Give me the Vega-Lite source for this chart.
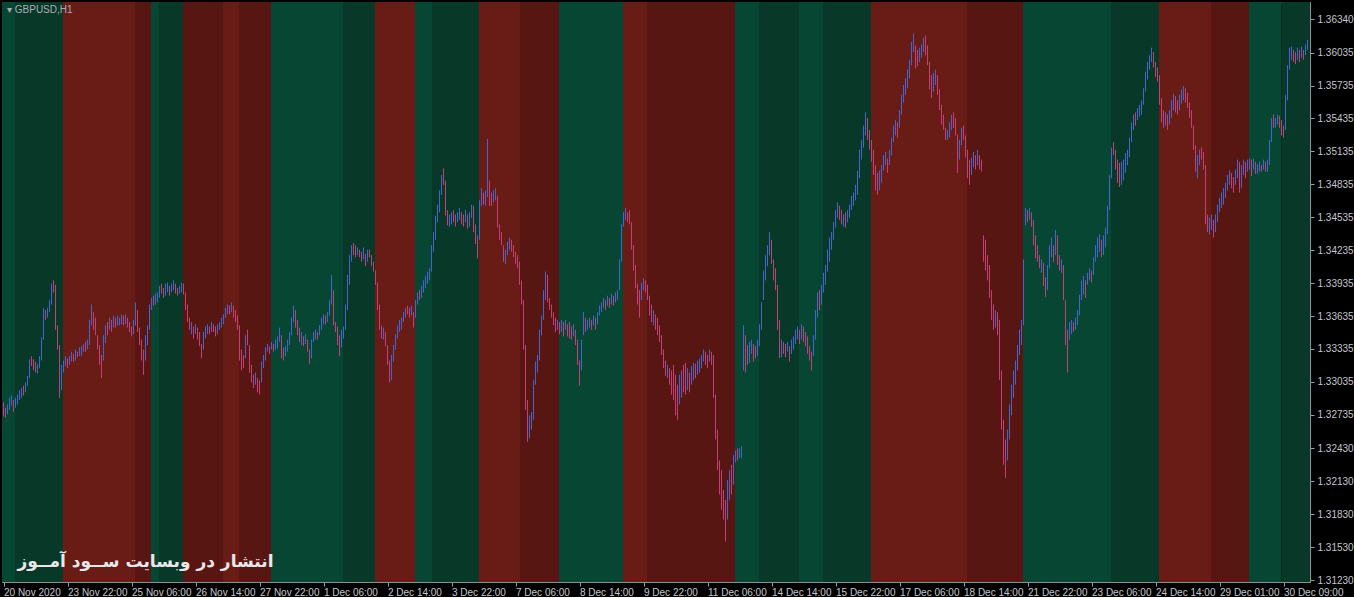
{
"$schema":"https://vega.github.io/schema/vega-lite/v6.json",
"width":1308,"height":580,
"padding":{"left":2,"top":2,"right":0,"bottom":0},
"autosize":{"type":"pad"},
"background":"#000000",
"config":{"font":"Liberation Sans","view":{"stroke":"#8a8f9c","strokeWidth":1},
 "axisX":{"title":null,"labelAlign":"left","labelDx":-3,"labelPadding":1,"labelFontSize":10,"labelColor":"#c4c6cc","labelFont":"Liberation Sans","labelOverlap":false,"labelFlush":false,
    "tickSize":4,"tickColor":"#9a9ea8","domainColor":"#8a8f9c","grid":false},
 "axisY":{"title":null,"labelPadding":3,"labelFontSize":10,"labelColor":"#c4c6cc","labelFont":"Liberation Sans","labelOverlap":false,"labelFlush":false,
    "tickSize":4,"tickColor":"#9a9ea8","domainColor":"#8a8f9c","grid":false}},
"title":{"text":"▾ GBPUSD,H1","anchor":"start","orient":"top","offset":-13,"dx":5,"fontSize":10,"fontWeight":"normal","color":"#a9adb6","font":"Liberation Sans","frame":"group"},
"datasets":{
"bands":[{"s":-0.75,"e":5.75,"c":"lg"},{"s":5.75,"e":29.75,"c":"dg"},{"s":29.75,"e":65.75,"c":"lr"},{"s":65.75,"e":73.75,"c":"dr"},{"s":73.75,"e":77.75,"c":"lg"},{"s":77.75,"e":89.75,"c":"dg"},{"s":89.75,"e":109.75,"c":"dr"},{"s":109.75,"e":117.75,"c":"lr"},{"s":117.75,"e":133.75,"c":"dr"},{"s":133.75,"e":169.75,"c":"lg"},{"s":169.75,"e":185.75,"c":"dg"},{"s":185.75,"e":205.75,"c":"lr"},{"s":205.75,"e":214.25,"c":"lg"},{"s":214.25,"e":237.75,"c":"dg"},{"s":237.75,"e":258.25,"c":"lr"},{"s":258.25,"e":277.75,"c":"dr"},{"s":277.75,"e":309.75,"c":"lg"},{"s":309.75,"e":321.75,"c":"lr"},{"s":321.75,"e":365.75,"c":"dr"},{"s":365.75,"e":377.75,"c":"lg"},{"s":377.75,"e":397.75,"c":"dg"},{"s":397.75,"e":409.75,"c":"lg"},{"s":409.75,"e":433.75,"c":"dg"},{"s":433.75,"e":481.75,"c":"lr"},{"s":481.75,"e":509.75,"c":"dr"},{"s":509.75,"e":553.75,"c":"lg"},{"s":553.75,"e":577.75,"c":"dg"},{"s":577.75,"e":603.75,"c":"lr"},{"s":603.75,"e":622.75,"c":"dr"},{"s":622.75,"e":639,"c":"lg"},{"s":639,"e":653.25,"c":"dg"}],
"bars":[
{"i":0,"h":1.3285,"l":1.3272,"d":"d"},{"i":1,"h":1.3280,"l":1.3271,"d":"d"},{"i":2,"h":1.3283,"l":1.3274,"d":"u"},{"i":3,"h":1.3289,"l":1.3278,"d":"u"},{"i":4,"h":1.3291,"l":1.3282,"d":"u"},{"i":5,"h":1.3287,"l":1.3276,"d":"d"},{"i":6,"h":1.3289,"l":1.3280,"d":"u"},{"i":7,"h":1.3292,"l":1.3283,"d":"u"},{"i":8,"h":1.3296,"l":1.3287,"d":"u"},{"i":9,"h":1.3298,"l":1.3289,"d":"u"},
{"i":10,"h":1.3300,"l":1.3291,"d":"d"},{"i":11,"h":1.3303,"l":1.3294,"d":"u"},{"i":12,"h":1.3309,"l":1.3300,"d":"u"},{"i":13,"h":1.3324,"l":1.3307,"d":"u"},{"i":14,"h":1.3327,"l":1.3318,"d":"d"},{"i":15,"h":1.3324,"l":1.3314,"d":"d"},{"i":16,"h":1.3322,"l":1.3312,"d":"d"},{"i":17,"h":1.3320,"l":1.3311,"d":"u"},{"i":18,"h":1.3327,"l":1.3316,"d":"u"},{"i":19,"h":1.3344,"l":1.3323,"d":"u"},
{"i":20,"h":1.3371,"l":1.3342,"d":"u"},{"i":21,"h":1.3369,"l":1.3360,"d":"d"},{"i":22,"h":1.3371,"l":1.3362,"d":"u"},{"i":23,"h":1.3378,"l":1.3367,"d":"u"},{"i":24,"h":1.3393,"l":1.3374,"d":"u"},{"i":25,"h":1.3396,"l":1.3385,"d":"d"},{"i":26,"h":1.3392,"l":1.3351,"d":"d"},{"i":27,"h":1.3355,"l":1.3333,"d":"d"},{"i":28,"h":1.3337,"l":1.3289,"d":"d"},{"i":29,"h":1.3319,"l":1.3296,"d":"u"},
{"i":30,"h":1.3323,"l":1.3312,"d":"u"},{"i":31,"h":1.3327,"l":1.3318,"d":"u"},{"i":32,"h":1.3325,"l":1.3316,"d":"d"},{"i":33,"h":1.3327,"l":1.3319,"d":"u"},{"i":34,"h":1.3331,"l":1.3322,"d":"u"},{"i":35,"h":1.3329,"l":1.3322,"d":"d"},{"i":36,"h":1.3333,"l":1.3323,"d":"u"},{"i":37,"h":1.3331,"l":1.3326,"d":"d"},{"i":38,"h":1.3335,"l":1.3327,"d":"u"},{"i":39,"h":1.3336,"l":1.3327,"d":"u"},
{"i":40,"h":1.3338,"l":1.3331,"d":"u"},{"i":41,"h":1.3340,"l":1.3331,"d":"d"},{"i":42,"h":1.3342,"l":1.3333,"d":"u"},{"i":43,"h":1.3360,"l":1.3337,"d":"u"},{"i":44,"h":1.3374,"l":1.3355,"d":"u"},{"i":45,"h":1.3367,"l":1.3351,"d":"d"},{"i":46,"h":1.3362,"l":1.3346,"d":"d"},{"i":47,"h":1.3346,"l":1.3333,"d":"d"},{"i":48,"h":1.3337,"l":1.3319,"d":"d"},{"i":49,"h":1.3328,"l":1.3307,"d":"d"},
{"i":50,"h":1.3346,"l":1.3323,"d":"u"},{"i":51,"h":1.3355,"l":1.3339,"d":"u"},{"i":52,"h":1.3358,"l":1.3346,"d":"d"},{"i":53,"h":1.3362,"l":1.3351,"d":"u"},{"i":54,"h":1.3360,"l":1.3349,"d":"d"},{"i":55,"h":1.3364,"l":1.3353,"d":"u"},{"i":56,"h":1.3362,"l":1.3353,"d":"d"},{"i":57,"h":1.3364,"l":1.3355,"d":"u"},{"i":58,"h":1.3362,"l":1.3355,"d":"u"},{"i":59,"h":1.3365,"l":1.3356,"d":"u"},
{"i":60,"h":1.3364,"l":1.3355,"d":"d"},{"i":61,"h":1.3365,"l":1.3356,"d":"u"},{"i":62,"h":1.3362,"l":1.3353,"d":"d"},{"i":63,"h":1.3358,"l":1.3349,"d":"d"},{"i":64,"h":1.3354,"l":1.3345,"d":"d"},{"i":65,"h":1.3360,"l":1.3347,"d":"u"},{"i":66,"h":1.3376,"l":1.3355,"d":"u"},{"i":67,"h":1.3369,"l":1.3349,"d":"d"},{"i":68,"h":1.3353,"l":1.3337,"d":"d"},{"i":69,"h":1.3342,"l":1.3323,"d":"d"},
{"i":70,"h":1.3333,"l":1.3310,"d":"d"},{"i":71,"h":1.3346,"l":1.3323,"d":"u"},{"i":72,"h":1.3355,"l":1.3337,"d":"u"},{"i":73,"h":1.3374,"l":1.3351,"d":"u"},{"i":74,"h":1.3380,"l":1.3369,"d":"u"},{"i":75,"h":1.3382,"l":1.3373,"d":"d"},{"i":76,"h":1.3384,"l":1.3374,"d":"u"},{"i":77,"h":1.3385,"l":1.3376,"d":"u"},{"i":78,"h":1.3391,"l":1.3380,"d":"u"},{"i":79,"h":1.3393,"l":1.3384,"d":"d"},
{"i":80,"h":1.3389,"l":1.3380,"d":"d"},{"i":81,"h":1.3393,"l":1.3382,"d":"u"},{"i":82,"h":1.3394,"l":1.3385,"d":"u"},{"i":83,"h":1.3391,"l":1.3382,"d":"d"},{"i":84,"h":1.3393,"l":1.3385,"d":"u"},{"i":85,"h":1.3396,"l":1.3387,"d":"u"},{"i":86,"h":1.3393,"l":1.3384,"d":"d"},{"i":87,"h":1.3389,"l":1.3382,"d":"d"},{"i":88,"h":1.3391,"l":1.3384,"d":"u"},{"i":89,"h":1.3394,"l":1.3385,"d":"u"},
{"i":90,"h":1.3393,"l":1.3383,"d":"d"},{"i":91,"h":1.3385,"l":1.3369,"d":"d"},{"i":92,"h":1.3374,"l":1.3358,"d":"d"},{"i":93,"h":1.3362,"l":1.3351,"d":"d"},{"i":94,"h":1.3358,"l":1.3347,"d":"u"},{"i":95,"h":1.3354,"l":1.3343,"d":"d"},{"i":96,"h":1.3356,"l":1.3347,"d":"u"},{"i":97,"h":1.3353,"l":1.3342,"d":"d"},{"i":98,"h":1.3349,"l":1.3336,"d":"d"},{"i":99,"h":1.3338,"l":1.3325,"d":"d"},
{"i":100,"h":1.3349,"l":1.3333,"d":"u"},{"i":101,"h":1.3354,"l":1.3343,"d":"u"},{"i":102,"h":1.3356,"l":1.3347,"d":"u"},{"i":103,"h":1.3354,"l":1.3347,"d":"d"},{"i":104,"h":1.3358,"l":1.3349,"d":"u"},{"i":105,"h":1.3356,"l":1.3349,"d":"d"},{"i":106,"h":1.3354,"l":1.3345,"d":"d"},{"i":107,"h":1.3356,"l":1.3347,"d":"u"},{"i":108,"h":1.3358,"l":1.3351,"d":"u"},{"i":109,"h":1.3362,"l":1.3353,"d":"u"},
{"i":110,"h":1.3365,"l":1.3356,"d":"u"},{"i":111,"h":1.3371,"l":1.3362,"d":"u"},{"i":112,"h":1.3374,"l":1.3365,"d":"u"},{"i":113,"h":1.3373,"l":1.3365,"d":"d"},{"i":114,"h":1.3376,"l":1.3367,"d":"u"},{"i":115,"h":1.3373,"l":1.3362,"d":"d"},{"i":116,"h":1.3369,"l":1.3358,"d":"d"},{"i":117,"h":1.3364,"l":1.3351,"d":"d"},{"i":118,"h":1.3355,"l":1.3323,"d":"d"},{"i":119,"h":1.3333,"l":1.3314,"d":"d"},
{"i":120,"h":1.3328,"l":1.3316,"d":"d"},{"i":121,"h":1.3346,"l":1.3325,"d":"u"},{"i":122,"h":1.3351,"l":1.3337,"d":"d"},{"i":123,"h":1.3337,"l":1.3312,"d":"d"},{"i":124,"h":1.3319,"l":1.3303,"d":"d"},{"i":125,"h":1.3310,"l":1.3298,"d":"d"},{"i":126,"h":1.3312,"l":1.3301,"d":"u"},{"i":127,"h":1.3307,"l":1.3294,"d":"d"},{"i":128,"h":1.3305,"l":1.3292,"d":"d"},{"i":129,"h":1.3322,"l":1.3303,"d":"u"},
{"i":130,"h":1.3328,"l":1.3316,"d":"u"},{"i":131,"h":1.3335,"l":1.3323,"d":"u"},{"i":132,"h":1.3338,"l":1.3331,"d":"u"},{"i":133,"h":1.3336,"l":1.3329,"d":"d"},{"i":134,"h":1.3340,"l":1.3333,"d":"u"},{"i":135,"h":1.3338,"l":1.3331,"d":"d"},{"i":136,"h":1.3342,"l":1.3333,"d":"u"},{"i":137,"h":1.3345,"l":1.3334,"d":"u"},{"i":138,"h":1.3353,"l":1.3340,"d":"u"},{"i":139,"h":1.3346,"l":1.3325,"d":"d"},
{"i":140,"h":1.3335,"l":1.3323,"d":"d"},{"i":141,"h":1.3336,"l":1.3327,"d":"u"},{"i":142,"h":1.3342,"l":1.3331,"d":"u"},{"i":143,"h":1.3349,"l":1.3337,"d":"u"},{"i":144,"h":1.3362,"l":1.3346,"d":"u"},{"i":145,"h":1.3373,"l":1.3358,"d":"u"},{"i":146,"h":1.3369,"l":1.3353,"d":"d"},{"i":147,"h":1.3360,"l":1.3346,"d":"d"},{"i":148,"h":1.3353,"l":1.3340,"d":"d"},{"i":149,"h":1.3349,"l":1.3337,"d":"u"},
{"i":150,"h":1.3345,"l":1.3336,"d":"d"},{"i":151,"h":1.3347,"l":1.3338,"d":"u"},{"i":152,"h":1.3342,"l":1.3331,"d":"d"},{"i":153,"h":1.3333,"l":1.3320,"d":"d"},{"i":154,"h":1.3342,"l":1.3325,"d":"u"},{"i":155,"h":1.3349,"l":1.3340,"d":"u"},{"i":156,"h":1.3351,"l":1.3342,"d":"u"},{"i":157,"h":1.3349,"l":1.3342,"d":"d"},{"i":158,"h":1.3355,"l":1.3346,"d":"u"},{"i":159,"h":1.3362,"l":1.3351,"d":"u"},
{"i":160,"h":1.3365,"l":1.3356,"d":"u"},{"i":161,"h":1.3364,"l":1.3356,"d":"d"},{"i":162,"h":1.3367,"l":1.3358,"d":"u"},{"i":163,"h":1.3378,"l":1.3364,"d":"u"},{"i":164,"h":1.3401,"l":1.3374,"d":"u"},{"i":165,"h":1.3387,"l":1.3355,"d":"d"},{"i":166,"h":1.3358,"l":1.3349,"d":"d"},{"i":167,"h":1.3354,"l":1.3337,"d":"d"},{"i":168,"h":1.3346,"l":1.3327,"d":"d"},{"i":169,"h":1.3351,"l":1.3335,"d":"u"},
{"i":170,"h":1.3354,"l":1.3343,"d":"u"},{"i":171,"h":1.3374,"l":1.3351,"d":"u"},{"i":172,"h":1.3401,"l":1.3369,"d":"u"},{"i":173,"h":1.3419,"l":1.3392,"d":"u"},{"i":174,"h":1.3428,"l":1.3413,"d":"u"},{"i":175,"h":1.3430,"l":1.3419,"d":"d"},{"i":176,"h":1.3428,"l":1.3417,"d":"d"},{"i":177,"h":1.3426,"l":1.3419,"d":"u"},{"i":178,"h":1.3424,"l":1.3417,"d":"d"},{"i":179,"h":1.3422,"l":1.3413,"d":"d"},
{"i":180,"h":1.3426,"l":1.3415,"d":"u"},{"i":181,"h":1.3420,"l":1.3409,"d":"d"},{"i":182,"h":1.3424,"l":1.3413,"d":"u"},{"i":183,"h":1.3424,"l":1.3417,"d":"d"},{"i":184,"h":1.3419,"l":1.3409,"d":"d"},{"i":185,"h":1.3413,"l":1.3404,"d":"d"},{"i":186,"h":1.3405,"l":1.3392,"d":"d"},{"i":187,"h":1.3394,"l":1.3369,"d":"d"},{"i":188,"h":1.3374,"l":1.3351,"d":"d"},{"i":189,"h":1.3355,"l":1.3343,"d":"d"},
{"i":190,"h":1.3353,"l":1.3342,"d":"u"},{"i":191,"h":1.3349,"l":1.3336,"d":"d"},{"i":192,"h":1.3337,"l":1.3319,"d":"d"},{"i":193,"h":1.3323,"l":1.3303,"d":"d"},{"i":194,"h":1.3328,"l":1.3305,"d":"u"},{"i":195,"h":1.3337,"l":1.3322,"d":"u"},{"i":196,"h":1.3347,"l":1.3333,"d":"u"},{"i":197,"h":1.3355,"l":1.3343,"d":"u"},{"i":198,"h":1.3360,"l":1.3349,"d":"u"},{"i":199,"h":1.3362,"l":1.3351,"d":"u"},
{"i":200,"h":1.3367,"l":1.3358,"d":"u"},{"i":201,"h":1.3371,"l":1.3362,"d":"u"},{"i":202,"h":1.3373,"l":1.3365,"d":"d"},{"i":203,"h":1.3371,"l":1.3362,"d":"d"},{"i":204,"h":1.3373,"l":1.3364,"d":"u"},{"i":205,"h":1.3367,"l":1.3353,"d":"d"},{"i":206,"h":1.3378,"l":1.3362,"d":"u"},{"i":207,"h":1.3385,"l":1.3374,"d":"u"},{"i":208,"h":1.3387,"l":1.3378,"d":"d"},{"i":209,"h":1.3391,"l":1.3380,"d":"u"},
{"i":210,"h":1.3396,"l":1.3385,"d":"u"},{"i":211,"h":1.3400,"l":1.3389,"d":"u"},{"i":212,"h":1.3404,"l":1.3393,"d":"u"},{"i":213,"h":1.3407,"l":1.3396,"d":"u"},{"i":214,"h":1.3428,"l":1.3404,"d":"u"},{"i":215,"h":1.3440,"l":1.3422,"d":"u"},{"i":216,"h":1.3455,"l":1.3433,"d":"u"},{"i":217,"h":1.3465,"l":1.3449,"d":"u"},{"i":218,"h":1.3478,"l":1.3458,"d":"u"},{"i":219,"h":1.3492,"l":1.3474,"d":"u"},
{"i":220,"h":1.3498,"l":1.3483,"d":"d"},{"i":221,"h":1.3487,"l":1.3455,"d":"d"},{"i":222,"h":1.3460,"l":1.3446,"d":"d"},{"i":223,"h":1.3456,"l":1.3445,"d":"u"},{"i":224,"h":1.3458,"l":1.3447,"d":"u"},{"i":225,"h":1.3460,"l":1.3449,"d":"d"},{"i":226,"h":1.3456,"l":1.3445,"d":"d"},{"i":227,"h":1.3458,"l":1.3449,"d":"u"},{"i":228,"h":1.3462,"l":1.3451,"d":"u"},{"i":229,"h":1.3458,"l":1.3447,"d":"d"},
{"i":230,"h":1.3456,"l":1.3445,"d":"d"},{"i":231,"h":1.3460,"l":1.3449,"d":"u"},{"i":232,"h":1.3456,"l":1.3443,"d":"d"},{"i":233,"h":1.3458,"l":1.3445,"d":"u"},{"i":234,"h":1.3465,"l":1.3453,"d":"u"},{"i":235,"h":1.3464,"l":1.3440,"d":"d"},{"i":236,"h":1.3447,"l":1.3429,"d":"d"},{"i":237,"h":1.3437,"l":1.3416,"d":"d"},{"i":238,"h":1.3469,"l":1.3433,"d":"u"},{"i":239,"h":1.3480,"l":1.3464,"d":"u"},
{"i":240,"h":1.3476,"l":1.3465,"d":"d"},{"i":241,"h":1.3478,"l":1.3464,"d":"u"},{"i":242,"h":1.3525,"l":1.3472,"d":"u"},{"i":243,"h":1.3487,"l":1.3464,"d":"d"},{"i":244,"h":1.3476,"l":1.3464,"d":"d"},{"i":245,"h":1.3478,"l":1.3467,"d":"u"},{"i":246,"h":1.3480,"l":1.3469,"d":"u"},{"i":247,"h":1.3473,"l":1.3444,"d":"d"},{"i":248,"h":1.3447,"l":1.3433,"d":"d"},{"i":249,"h":1.3440,"l":1.3428,"d":"d"},
{"i":250,"h":1.3428,"l":1.3413,"d":"d"},{"i":251,"h":1.3424,"l":1.3411,"d":"u"},{"i":252,"h":1.3431,"l":1.3419,"d":"u"},{"i":253,"h":1.3435,"l":1.3424,"d":"u"},{"i":254,"h":1.3433,"l":1.3422,"d":"d"},{"i":255,"h":1.3428,"l":1.3417,"d":"d"},{"i":256,"h":1.3422,"l":1.3411,"d":"d"},{"i":257,"h":1.3419,"l":1.3407,"d":"d"},{"i":258,"h":1.3413,"l":1.3392,"d":"d"},{"i":259,"h":1.3396,"l":1.3374,"d":"d"},
{"i":260,"h":1.3378,"l":1.3333,"d":"d"},{"i":261,"h":1.3337,"l":1.3278,"d":"d"},{"i":262,"h":1.3287,"l":1.3249,"d":"d"},{"i":263,"h":1.3273,"l":1.3252,"d":"u"},{"i":264,"h":1.3276,"l":1.3260,"d":"u"},{"i":265,"h":1.3305,"l":1.3269,"d":"u"},{"i":266,"h":1.3322,"l":1.3301,"d":"u"},{"i":267,"h":1.3328,"l":1.3312,"d":"u"},{"i":268,"h":1.3351,"l":1.3323,"d":"u"},{"i":269,"h":1.3364,"l":1.3346,"d":"u"},
{"i":270,"h":1.3387,"l":1.3360,"d":"u"},{"i":271,"h":1.3404,"l":1.3378,"d":"u"},{"i":272,"h":1.3401,"l":1.3376,"d":"d"},{"i":273,"h":1.3380,"l":1.3369,"d":"d"},{"i":274,"h":1.3374,"l":1.3362,"d":"d"},{"i":275,"h":1.3367,"l":1.3355,"d":"d"},{"i":276,"h":1.3362,"l":1.3349,"d":"d"},{"i":277,"h":1.3360,"l":1.3351,"d":"u"},{"i":278,"h":1.3358,"l":1.3347,"d":"d"},{"i":279,"h":1.3360,"l":1.3349,"d":"u"},
{"i":280,"h":1.3358,"l":1.3345,"d":"d"},{"i":281,"h":1.3360,"l":1.3351,"d":"u"},{"i":282,"h":1.3356,"l":1.3345,"d":"d"},{"i":283,"h":1.3358,"l":1.3343,"d":"d"},{"i":284,"h":1.3354,"l":1.3342,"d":"d"},{"i":285,"h":1.3356,"l":1.3345,"d":"u"},{"i":286,"h":1.3351,"l":1.3337,"d":"d"},{"i":287,"h":1.3342,"l":1.3319,"d":"d"},{"i":288,"h":1.3323,"l":1.3300,"d":"d"},{"i":289,"h":1.3342,"l":1.3314,"d":"u"},
{"i":290,"h":1.3367,"l":1.3346,"d":"u"},{"i":291,"h":1.3362,"l":1.3349,"d":"d"},{"i":292,"h":1.3360,"l":1.3351,"d":"u"},{"i":293,"h":1.3362,"l":1.3353,"d":"u"},{"i":294,"h":1.3360,"l":1.3351,"d":"d"},{"i":295,"h":1.3364,"l":1.3355,"d":"u"},{"i":296,"h":1.3362,"l":1.3351,"d":"d"},{"i":297,"h":1.3367,"l":1.3356,"d":"u"},{"i":298,"h":1.3373,"l":1.3364,"d":"u"},{"i":299,"h":1.3376,"l":1.3367,"d":"u"},
{"i":300,"h":1.3380,"l":1.3371,"d":"u"},{"i":301,"h":1.3378,"l":1.3369,"d":"d"},{"i":302,"h":1.3382,"l":1.3373,"d":"u"},{"i":303,"h":1.3380,"l":1.3371,"d":"d"},{"i":304,"h":1.3384,"l":1.3374,"d":"u"},{"i":305,"h":1.3382,"l":1.3373,"d":"d"},{"i":306,"h":1.3385,"l":1.3376,"d":"u"},{"i":307,"h":1.3387,"l":1.3378,"d":"u"},{"i":308,"h":1.3415,"l":1.3387,"d":"u"},{"i":309,"h":1.3447,"l":1.3413,"d":"u"},
{"i":310,"h":1.3458,"l":1.3445,"d":"u"},{"i":311,"h":1.3462,"l":1.3451,"d":"u"},{"i":312,"h":1.3458,"l":1.3449,"d":"d"},{"i":313,"h":1.3460,"l":1.3447,"d":"d"},{"i":314,"h":1.3449,"l":1.3424,"d":"d"},{"i":315,"h":1.3428,"l":1.3405,"d":"d"},{"i":316,"h":1.3410,"l":1.3389,"d":"d"},{"i":317,"h":1.3393,"l":1.3374,"d":"d"},{"i":318,"h":1.3387,"l":1.3362,"d":"d"},{"i":319,"h":1.3394,"l":1.3378,"d":"u"},
{"i":320,"h":1.3398,"l":1.3387,"d":"u"},{"i":321,"h":1.3396,"l":1.3385,"d":"d"},{"i":322,"h":1.3392,"l":1.3378,"d":"d"},{"i":323,"h":1.3382,"l":1.3364,"d":"d"},{"i":324,"h":1.3374,"l":1.3358,"d":"d"},{"i":325,"h":1.3369,"l":1.3355,"d":"u"},{"i":326,"h":1.3365,"l":1.3351,"d":"d"},{"i":327,"h":1.3362,"l":1.3346,"d":"d"},{"i":328,"h":1.3355,"l":1.3340,"d":"d"},{"i":329,"h":1.3346,"l":1.3328,"d":"d"},
{"i":330,"h":1.3333,"l":1.3316,"d":"d"},{"i":331,"h":1.3323,"l":1.3309,"d":"d"},{"i":332,"h":1.3319,"l":1.3307,"d":"u"},{"i":333,"h":1.3316,"l":1.3301,"d":"d"},{"i":334,"h":1.3314,"l":1.3292,"d":"d"},{"i":335,"h":1.3319,"l":1.3287,"d":"d"},{"i":336,"h":1.3310,"l":1.3273,"d":"d"},{"i":337,"h":1.3301,"l":1.3269,"d":"d"},{"i":338,"h":1.3310,"l":1.3283,"d":"u"},{"i":339,"h":1.3314,"l":1.3289,"d":"u"},
{"i":340,"h":1.3319,"l":1.3294,"d":"d"},{"i":341,"h":1.3321,"l":1.3292,"d":"d"},{"i":342,"h":1.3316,"l":1.3296,"d":"u"},{"i":343,"h":1.3312,"l":1.3294,"d":"d"},{"i":344,"h":1.3318,"l":1.3301,"d":"u"},{"i":345,"h":1.3321,"l":1.3305,"d":"u"},{"i":346,"h":1.3320,"l":1.3307,"d":"d"},{"i":347,"h":1.3323,"l":1.3310,"d":"u"},{"i":348,"h":1.3325,"l":1.3312,"d":"u"},{"i":349,"h":1.3328,"l":1.3316,"d":"u"},
{"i":350,"h":1.3333,"l":1.3322,"d":"u"},{"i":351,"h":1.3331,"l":1.3319,"d":"d"},{"i":352,"h":1.3328,"l":1.3316,"d":"d"},{"i":353,"h":1.3333,"l":1.3322,"d":"u"},{"i":354,"h":1.3331,"l":1.3319,"d":"d"},{"i":355,"h":1.3328,"l":1.3289,"d":"d"},{"i":356,"h":1.3292,"l":1.3251,"d":"d"},{"i":357,"h":1.3260,"l":1.3223,"d":"d"},{"i":358,"h":1.3232,"l":1.3201,"d":"d"},{"i":359,"h":1.3223,"l":1.3187,"d":"d"},
{"i":360,"h":1.3205,"l":1.3178,"d":"d"},{"i":361,"h":1.3196,"l":1.3158,"d":"d"},{"i":362,"h":1.3214,"l":1.3178,"d":"u"},{"i":363,"h":1.3223,"l":1.3196,"d":"u"},{"i":364,"h":1.3228,"l":1.3201,"d":"d"},{"i":365,"h":1.3237,"l":1.3210,"d":"u"},{"i":366,"h":1.3241,"l":1.3230,"d":"u"},{"i":367,"h":1.3243,"l":1.3232,"d":"d"},{"i":368,"h":1.3243,"l":1.3234,"d":"u"},{"i":369,"h":1.3245,"l":1.3234,"d":"u"},
{"i":370,"h":1.3355,"l":1.3314,"d":"u"},{"i":371,"h":1.3346,"l":1.3312,"d":"d"},{"i":372,"h":1.3337,"l":1.3319,"d":"d"},{"i":373,"h":1.3340,"l":1.3321,"d":"u"},{"i":374,"h":1.3342,"l":1.3329,"d":"u"},{"i":375,"h":1.3338,"l":1.3322,"d":"d"},{"i":376,"h":1.3336,"l":1.3325,"d":"d"},{"i":377,"h":1.3342,"l":1.3327,"d":"u"},{"i":378,"h":1.3356,"l":1.3336,"d":"u"},{"i":379,"h":1.3376,"l":1.3351,"d":"u"},
{"i":380,"h":1.3405,"l":1.3378,"d":"u"},{"i":381,"h":1.3419,"l":1.3396,"d":"u"},{"i":382,"h":1.3428,"l":1.3409,"d":"u"},{"i":383,"h":1.3440,"l":1.3419,"d":"u"},{"i":384,"h":1.3433,"l":1.3411,"d":"d"},{"i":385,"h":1.3415,"l":1.3396,"d":"d"},{"i":386,"h":1.3407,"l":1.3387,"d":"d"},{"i":387,"h":1.3392,"l":1.3351,"d":"d"},{"i":388,"h":1.3360,"l":1.3325,"d":"d"},{"i":389,"h":1.3342,"l":1.3326,"d":"u"},
{"i":390,"h":1.3340,"l":1.3329,"d":"d"},{"i":391,"h":1.3338,"l":1.3326,"d":"d"},{"i":392,"h":1.3340,"l":1.3331,"d":"u"},{"i":393,"h":1.3336,"l":1.3322,"d":"d"},{"i":394,"h":1.3342,"l":1.3329,"d":"u"},{"i":395,"h":1.3345,"l":1.3333,"d":"u"},{"i":396,"h":1.3351,"l":1.3338,"d":"u"},{"i":397,"h":1.3354,"l":1.3342,"d":"u"},{"i":398,"h":1.3351,"l":1.3338,"d":"d"},{"i":399,"h":1.3356,"l":1.3342,"d":"u"},
{"i":400,"h":1.3354,"l":1.3340,"d":"d"},{"i":401,"h":1.3349,"l":1.3336,"d":"d"},{"i":402,"h":1.3345,"l":1.3329,"d":"d"},{"i":403,"h":1.3336,"l":1.3323,"d":"d"},{"i":404,"h":1.3331,"l":1.3314,"d":"d"},{"i":405,"h":1.3346,"l":1.3327,"d":"u"},{"i":406,"h":1.3369,"l":1.3342,"d":"u"},{"i":407,"h":1.3385,"l":1.3362,"d":"u"},{"i":408,"h":1.3387,"l":1.3369,"d":"d"},{"i":409,"h":1.3392,"l":1.3374,"d":"u"},
{"i":410,"h":1.3403,"l":1.3385,"d":"u"},{"i":411,"h":1.3410,"l":1.3392,"d":"u"},{"i":412,"h":1.3424,"l":1.3404,"d":"u"},{"i":413,"h":1.3435,"l":1.3413,"d":"u"},{"i":414,"h":1.3440,"l":1.3424,"d":"u"},{"i":415,"h":1.3449,"l":1.3433,"d":"u"},{"i":416,"h":1.3460,"l":1.3444,"d":"u"},{"i":417,"h":1.3467,"l":1.3453,"d":"u"},{"i":418,"h":1.3464,"l":1.3451,"d":"d"},{"i":419,"h":1.3460,"l":1.3447,"d":"d"},
{"i":420,"h":1.3456,"l":1.3445,"d":"u"},{"i":421,"h":1.3458,"l":1.3444,"d":"d"},{"i":422,"h":1.3460,"l":1.3449,"d":"u"},{"i":423,"h":1.3465,"l":1.3453,"d":"u"},{"i":424,"h":1.3473,"l":1.3460,"d":"u"},{"i":425,"h":1.3476,"l":1.3464,"d":"u"},{"i":426,"h":1.3483,"l":1.3469,"d":"u"},{"i":427,"h":1.3496,"l":1.3474,"d":"u"},{"i":428,"h":1.3515,"l":1.3489,"d":"u"},{"i":429,"h":1.3524,"l":1.3506,"d":"u"},
{"i":430,"h":1.3537,"l":1.3517,"d":"u"},{"i":431,"h":1.3549,"l":1.3528,"d":"u"},{"i":432,"h":1.3544,"l":1.3524,"d":"d"},{"i":433,"h":1.3533,"l":1.3515,"d":"d"},{"i":434,"h":1.3524,"l":1.3504,"d":"d"},{"i":435,"h":1.3515,"l":1.3492,"d":"d"},{"i":436,"h":1.3501,"l":1.3478,"d":"d"},{"i":437,"h":1.3494,"l":1.3474,"d":"d"},{"i":438,"h":1.3496,"l":1.3478,"d":"u"},{"i":439,"h":1.3501,"l":1.3485,"d":"u"},
{"i":440,"h":1.3510,"l":1.3496,"d":"u"},{"i":441,"h":1.3513,"l":1.3501,"d":"u"},{"i":442,"h":1.3507,"l":1.3494,"d":"d"},{"i":443,"h":1.3515,"l":1.3501,"d":"u"},{"i":444,"h":1.3526,"l":1.3510,"d":"u"},{"i":445,"h":1.3537,"l":1.3522,"d":"u"},{"i":446,"h":1.3542,"l":1.3528,"d":"u"},{"i":447,"h":1.3540,"l":1.3526,"d":"d"},{"i":448,"h":1.3551,"l":1.3535,"d":"u"},{"i":449,"h":1.3565,"l":1.3547,"d":"u"},
{"i":450,"h":1.3574,"l":1.3558,"d":"u"},{"i":451,"h":1.3580,"l":1.3565,"d":"u"},{"i":452,"h":1.3588,"l":1.3571,"d":"u"},{"i":453,"h":1.3597,"l":1.3580,"d":"u"},{"i":454,"h":1.3613,"l":1.3592,"d":"u"},{"i":455,"h":1.3621,"l":1.3604,"d":"u"},{"i":456,"h":1.3610,"l":1.3589,"d":"d"},{"i":457,"h":1.3606,"l":1.3591,"d":"d"},{"i":458,"h":1.3608,"l":1.3595,"d":"u"},{"i":459,"h":1.3611,"l":1.3599,"d":"u"},
{"i":460,"h":1.3617,"l":1.3604,"d":"u"},{"i":461,"h":1.3619,"l":1.3601,"d":"d"},{"i":462,"h":1.3610,"l":1.3592,"d":"d"},{"i":463,"h":1.3595,"l":1.3570,"d":"d"},{"i":464,"h":1.3583,"l":1.3562,"d":"d"},{"i":465,"h":1.3585,"l":1.3568,"d":"u"},{"i":466,"h":1.3588,"l":1.3574,"d":"u"},{"i":467,"h":1.3583,"l":1.3565,"d":"d"},{"i":468,"h":1.3570,"l":1.3551,"d":"d"},{"i":469,"h":1.3556,"l":1.3538,"d":"d"},
{"i":470,"h":1.3547,"l":1.3533,"d":"d"},{"i":471,"h":1.3535,"l":1.3524,"d":"d"},{"i":472,"h":1.3533,"l":1.3524,"d":"u"},{"i":473,"h":1.3540,"l":1.3526,"d":"u"},{"i":474,"h":1.3547,"l":1.3533,"d":"u"},{"i":475,"h":1.3549,"l":1.3535,"d":"d"},{"i":476,"h":1.3544,"l":1.3528,"d":"d"},{"i":477,"h":1.3529,"l":1.3494,"d":"d"},{"i":478,"h":1.3524,"l":1.3506,"d":"u"},{"i":479,"h":1.3535,"l":1.3519,"d":"u"},
{"i":480,"h":1.3537,"l":1.3524,"d":"d"},{"i":481,"h":1.3528,"l":1.3508,"d":"d"},{"i":482,"h":1.3515,"l":1.3489,"d":"d"},{"i":483,"h":1.3506,"l":1.3483,"d":"d"},{"i":484,"h":1.3508,"l":1.3492,"d":"u"},{"i":485,"h":1.3513,"l":1.3499,"d":"u"},{"i":486,"h":1.3510,"l":1.3497,"d":"d"},{"i":487,"h":1.3515,"l":1.3501,"d":"u"},{"i":488,"h":1.3510,"l":1.3497,"d":"d"},{"i":489,"h":1.3506,"l":1.3495,"d":"d"},
{"i":490,"h":1.3437,"l":1.3413,"d":"d"},{"i":491,"h":1.3433,"l":1.3405,"d":"d"},{"i":492,"h":1.3419,"l":1.3396,"d":"d"},{"i":493,"h":1.3410,"l":1.3380,"d":"d"},{"i":494,"h":1.3387,"l":1.3360,"d":"d"},{"i":495,"h":1.3374,"l":1.3351,"d":"d"},{"i":496,"h":1.3369,"l":1.3353,"d":"u"},{"i":497,"h":1.3367,"l":1.3346,"d":"d"},{"i":498,"h":1.3360,"l":1.3305,"d":"d"},{"i":499,"h":1.3314,"l":1.3260,"d":"d"},
{"i":500,"h":1.3269,"l":1.3228,"d":"d"},{"i":501,"h":1.3251,"l":1.3216,"d":"d"},{"i":502,"h":1.3260,"l":1.3232,"d":"u"},{"i":503,"h":1.3283,"l":1.3251,"d":"u"},{"i":504,"h":1.3301,"l":1.3273,"d":"u"},{"i":505,"h":1.3314,"l":1.3289,"d":"u"},{"i":506,"h":1.3323,"l":1.3301,"d":"u"},{"i":507,"h":1.3337,"l":1.3314,"d":"u"},{"i":508,"h":1.3351,"l":1.3328,"d":"u"},{"i":509,"h":1.3360,"l":1.3337,"d":"u"},
{"i":510,"h":1.3415,"l":1.3355,"d":"u"},{"i":511,"h":1.3462,"l":1.3446,"d":"u"},{"i":512,"h":1.3460,"l":1.3449,"d":"d"},{"i":513,"h":1.3462,"l":1.3451,"d":"u"},{"i":514,"h":1.3458,"l":1.3445,"d":"d"},{"i":515,"h":1.3451,"l":1.3428,"d":"d"},{"i":516,"h":1.3437,"l":1.3416,"d":"d"},{"i":517,"h":1.3428,"l":1.3413,"d":"d"},{"i":518,"h":1.3419,"l":1.3407,"d":"d"},{"i":519,"h":1.3415,"l":1.3403,"d":"u"},
{"i":520,"h":1.3412,"l":1.3391,"d":"d"},{"i":521,"h":1.3399,"l":1.3381,"d":"d"},{"i":522,"h":1.3410,"l":1.3387,"d":"u"},{"i":523,"h":1.3428,"l":1.3407,"d":"u"},{"i":524,"h":1.3435,"l":1.3417,"d":"u"},{"i":525,"h":1.3428,"l":1.3413,"d":"d"},{"i":526,"h":1.3442,"l":1.3419,"d":"u"},{"i":527,"h":1.3437,"l":1.3410,"d":"d"},{"i":528,"h":1.3419,"l":1.3405,"d":"d"},{"i":529,"h":1.3415,"l":1.3403,"d":"u"},
{"i":530,"h":1.3410,"l":1.3378,"d":"d"},{"i":531,"h":1.3378,"l":1.3337,"d":"d"},{"i":532,"h":1.3351,"l":1.3312,"d":"d"},{"i":533,"h":1.3358,"l":1.3342,"d":"u"},{"i":534,"h":1.3360,"l":1.3347,"d":"u"},{"i":535,"h":1.3358,"l":1.3349,"d":"d"},{"i":536,"h":1.3362,"l":1.3351,"d":"u"},{"i":537,"h":1.3369,"l":1.3355,"d":"u"},{"i":538,"h":1.3383,"l":1.3364,"d":"u"},{"i":539,"h":1.3396,"l":1.3378,"d":"u"},
{"i":540,"h":1.3400,"l":1.3383,"d":"u"},{"i":541,"h":1.3396,"l":1.3380,"d":"d"},{"i":542,"h":1.3403,"l":1.3392,"d":"u"},{"i":543,"h":1.3407,"l":1.3396,"d":"u"},{"i":544,"h":1.3405,"l":1.3394,"d":"d"},{"i":545,"h":1.3417,"l":1.3401,"d":"u"},{"i":546,"h":1.3428,"l":1.3413,"d":"u"},{"i":547,"h":1.3435,"l":1.3417,"d":"u"},{"i":548,"h":1.3438,"l":1.3422,"d":"u"},{"i":549,"h":1.3433,"l":1.3417,"d":"d"},
{"i":550,"h":1.3437,"l":1.3419,"d":"u"},{"i":551,"h":1.3444,"l":1.3426,"d":"u"},{"i":552,"h":1.3464,"l":1.3438,"d":"u"},{"i":553,"h":1.3492,"l":1.3460,"d":"u"},{"i":554,"h":1.3517,"l":1.3489,"d":"u"},{"i":555,"h":1.3522,"l":1.3510,"d":"d"},{"i":556,"h":1.3515,"l":1.3497,"d":"d"},{"i":557,"h":1.3506,"l":1.3485,"d":"d"},{"i":558,"h":1.3503,"l":1.3481,"d":"d"},{"i":559,"h":1.3504,"l":1.3483,"d":"u"},
{"i":560,"h":1.3506,"l":1.3487,"d":"u"},{"i":561,"h":1.3512,"l":1.3494,"d":"u"},{"i":562,"h":1.3515,"l":1.3501,"d":"u"},{"i":563,"h":1.3526,"l":1.3508,"d":"u"},{"i":564,"h":1.3540,"l":1.3522,"d":"u"},{"i":565,"h":1.3547,"l":1.3533,"d":"u"},{"i":566,"h":1.3549,"l":1.3537,"d":"d"},{"i":567,"h":1.3553,"l":1.3542,"d":"u"},{"i":568,"h":1.3556,"l":1.3545,"d":"u"},{"i":569,"h":1.3560,"l":1.3547,"d":"u"},
{"i":570,"h":1.3571,"l":1.3556,"d":"u"},{"i":571,"h":1.3586,"l":1.3568,"d":"u"},{"i":572,"h":1.3595,"l":1.3579,"d":"u"},{"i":573,"h":1.3601,"l":1.3588,"d":"u"},{"i":574,"h":1.3608,"l":1.3595,"d":"u"},{"i":575,"h":1.3604,"l":1.3590,"d":"d"},{"i":576,"h":1.3595,"l":1.3581,"d":"d"},{"i":577,"h":1.3590,"l":1.3577,"d":"d"},{"i":578,"h":1.3583,"l":1.3556,"d":"d"},{"i":579,"h":1.3562,"l":1.3540,"d":"d"},
{"i":580,"h":1.3551,"l":1.3535,"d":"d"},{"i":581,"h":1.3549,"l":1.3537,"d":"u"},{"i":582,"h":1.3547,"l":1.3533,"d":"d"},{"i":583,"h":1.3551,"l":1.3538,"d":"u"},{"i":584,"h":1.3560,"l":1.3544,"d":"u"},{"i":585,"h":1.3566,"l":1.3551,"d":"u"},{"i":586,"h":1.3564,"l":1.3549,"d":"d"},{"i":587,"h":1.3560,"l":1.3547,"d":"d"},{"i":588,"h":1.3565,"l":1.3551,"d":"u"},{"i":589,"h":1.3570,"l":1.3557,"d":"u"},
{"i":590,"h":1.3573,"l":1.3560,"d":"u"},{"i":591,"h":1.3571,"l":1.3558,"d":"d"},{"i":592,"h":1.3567,"l":1.3553,"d":"d"},{"i":593,"h":1.3558,"l":1.3544,"d":"d"},{"i":594,"h":1.3551,"l":1.3535,"d":"d"},{"i":595,"h":1.3537,"l":1.3515,"d":"d"},{"i":596,"h":1.3519,"l":1.3495,"d":"d"},{"i":597,"h":1.3510,"l":1.3489,"d":"u"},{"i":598,"h":1.3515,"l":1.3501,"d":"u"},{"i":599,"h":1.3517,"l":1.3506,"d":"d"},
{"i":600,"h":1.3513,"l":1.3497,"d":"d"},{"i":601,"h":1.3501,"l":1.3447,"d":"d"},{"i":602,"h":1.3456,"l":1.3440,"d":"d"},{"i":603,"h":1.3453,"l":1.3438,"d":"u"},{"i":604,"h":1.3456,"l":1.3442,"d":"u"},{"i":605,"h":1.3451,"l":1.3435,"d":"d"},{"i":606,"h":1.3456,"l":1.3440,"d":"u"},{"i":607,"h":1.3465,"l":1.3449,"d":"u"},{"i":608,"h":1.3471,"l":1.3458,"d":"u"},{"i":609,"h":1.3476,"l":1.3462,"d":"u"},
{"i":610,"h":1.3480,"l":1.3465,"d":"u"},{"i":611,"h":1.3485,"l":1.3471,"d":"u"},{"i":612,"h":1.3492,"l":1.3478,"d":"u"},{"i":613,"h":1.3496,"l":1.3483,"d":"u"},{"i":614,"h":1.3494,"l":1.3480,"d":"d"},{"i":615,"h":1.3490,"l":1.3476,"d":"d"},{"i":616,"h":1.3497,"l":1.3483,"d":"u"},{"i":617,"h":1.3506,"l":1.3489,"d":"u"},{"i":618,"h":1.3504,"l":1.3476,"d":"d"},{"i":619,"h":1.3501,"l":1.3480,"d":"u"},
{"i":620,"h":1.3506,"l":1.3492,"d":"u"},{"i":621,"h":1.3504,"l":1.3489,"d":"d"},{"i":622,"h":1.3506,"l":1.3495,"d":"u"},{"i":623,"h":1.3507,"l":1.3497,"d":"u"},{"i":624,"h":1.3506,"l":1.3491,"d":"d"},{"i":625,"h":1.3507,"l":1.3497,"d":"u"},{"i":626,"h":1.3504,"l":1.3493,"d":"d"},{"i":627,"h":1.3502,"l":1.3493,"d":"u"},{"i":628,"h":1.3504,"l":1.3495,"d":"u"},{"i":629,"h":1.3501,"l":1.3495,"d":"d"},
{"i":630,"h":1.3506,"l":1.3497,"d":"u"},{"i":631,"h":1.3504,"l":1.3495,"d":"d"},{"i":632,"h":1.3506,"l":1.3495,"d":"u"},{"i":633,"h":1.3524,"l":1.3501,"d":"u"},{"i":634,"h":1.3544,"l":1.3522,"d":"u"},{"i":635,"h":1.3547,"l":1.3535,"d":"d"},{"i":636,"h":1.3544,"l":1.3535,"d":"u"},{"i":637,"h":1.3547,"l":1.3538,"d":"u"},{"i":638,"h":1.3546,"l":1.3535,"d":"d"},{"i":639,"h":1.3542,"l":1.3528,"d":"d"},
{"i":640,"h":1.3537,"l":1.3526,"d":"d"},{"i":641,"h":1.3565,"l":1.3533,"d":"u"},{"i":642,"h":1.3592,"l":1.3560,"d":"u"},{"i":643,"h":1.3608,"l":1.3588,"d":"u"},{"i":644,"h":1.3609,"l":1.3597,"d":"u"},{"i":645,"h":1.3606,"l":1.3595,"d":"d"},{"i":646,"h":1.3604,"l":1.3593,"d":"d"},{"i":647,"h":1.3608,"l":1.3597,"d":"u"},{"i":648,"h":1.3606,"l":1.3595,"d":"d"},{"i":649,"h":1.3609,"l":1.3599,"d":"u"},
{"i":650,"h":1.3606,"l":1.3597,"d":"d"},{"i":651,"h":1.3611,"l":1.3601,"d":"u"},{"i":652,"h":1.3615,"l":1.3606,"d":"u"}
],
"mark":[{"t":"انتشار در وبسایت ســود آمــوز","x":71,"y":1.3139}]
},
"layer":[
{"data":{"name":"bands"},"mark":{"type":"rect"},
 "encoding":{
  "x":{"field":"s","type":"quantitative","scale":{"domain":[-0.75,653.25],"nice":false,"zero":false},
   "axis":{"values":[0,32,64,96,128,160,192,224,256,288,320,352,384,416,448,480,512,544,576,608,640],"labelExpr":"['20 Nov 2020','23 Nov 22:00','25 Nov 06:00','26 Nov 14:00','27 Nov 22:00','1 Dec 06:00','2 Dec 14:00','3 Dec 22:00','7 Dec 06:00','8 Dec 14:00','9 Dec 22:00','11 Dec 06:00','14 Dec 14:00','15 Dec 22:00','17 Dec 06:00','18 Dec 14:00','21 Dec 22:00','23 Dec 06:00','24 Dec 14:00','29 Dec 01:00','30 Dec 09:00'][round(datum.value/32)]"}},
  "x2":{"field":"e"},
  "color":{"field":"c","type":"nominal","scale":{"domain":["lg","dg","lr","dr"],"range":["#064632","#083828","#691b15","#581613"]},"legend":null}}},
{"data":{"name":"bars"},"transform":[{"filter":"datum.d === 'u'"}],"mark":{"type":"rule","strokeWidth":1,"color":"#4466cc"},
 "encoding":{
  "x":{"field":"i","type":"quantitative","scale":{"domain":[-0.75,653.25],"nice":false,"zero":false},
   "axis":{"values":[0,32,64,96,128,160,192,224,256,288,320,352,384,416,448,480,512,544,576,608,640],"labelExpr":"['20 Nov 2020','23 Nov 22:00','25 Nov 06:00','26 Nov 14:00','27 Nov 22:00','1 Dec 06:00','2 Dec 14:00','3 Dec 22:00','7 Dec 06:00','8 Dec 14:00','9 Dec 22:00','11 Dec 06:00','14 Dec 14:00','15 Dec 22:00','17 Dec 06:00','18 Dec 14:00','21 Dec 22:00','23 Dec 06:00','24 Dec 14:00','29 Dec 01:00','30 Dec 09:00'][round(datum.value/32)]"}},
  "y":{"field":"h","type":"quantitative","scale":{"domain":[1.31212,1.36496],"nice":false,"zero":false},
   "axis":{"orient":"right","format":".5f","values":[1.3123,1.3153,1.3183,1.3213,1.3243,1.32735,1.33035,1.33335,1.33635,1.33935,1.34235,1.34535,1.34835,1.35135,1.35435,1.35735,1.36035,1.3634]}},
  "y2":{"field":"l"}}},
{"data":{"name":"bars"},"transform":[{"filter":"datum.d === 'd'"}],"mark":{"type":"rule","strokeWidth":1,"color":"#c23f78"},
 "encoding":{
  "x":{"field":"i","type":"quantitative","scale":{"domain":[-0.75,653.25],"nice":false,"zero":false},
   "axis":{"values":[0,32,64,96,128,160,192,224,256,288,320,352,384,416,448,480,512,544,576,608,640],"labelExpr":"['20 Nov 2020','23 Nov 22:00','25 Nov 06:00','26 Nov 14:00','27 Nov 22:00','1 Dec 06:00','2 Dec 14:00','3 Dec 22:00','7 Dec 06:00','8 Dec 14:00','9 Dec 22:00','11 Dec 06:00','14 Dec 14:00','15 Dec 22:00','17 Dec 06:00','18 Dec 14:00','21 Dec 22:00','23 Dec 06:00','24 Dec 14:00','29 Dec 01:00','30 Dec 09:00'][round(datum.value/32)]"}},
  "y":{"field":"h","type":"quantitative","scale":{"domain":[1.31212,1.36496],"nice":false,"zero":false},
   "axis":{"orient":"right","format":".5f","values":[1.3123,1.3153,1.3183,1.3213,1.3243,1.32735,1.33035,1.33335,1.33635,1.33935,1.34235,1.34535,1.34835,1.35135,1.35435,1.35735,1.36035,1.3634]}},
  "y2":{"field":"l"}}},
{"data":{"name":"mark"},"mark":{"type":"text","font":"DejaVu Sans","fontWeight":"bold","fontSize":17,"align":"center","baseline":"middle","color":"#e8e8ec"},
 "encoding":{
  "x":{"field":"x","type":"quantitative","scale":{"domain":[-0.75,653.25],"nice":false,"zero":false},
   "axis":{"values":[0,32,64,96,128,160,192,224,256,288,320,352,384,416,448,480,512,544,576,608,640],"labelExpr":"['20 Nov 2020','23 Nov 22:00','25 Nov 06:00','26 Nov 14:00','27 Nov 22:00','1 Dec 06:00','2 Dec 14:00','3 Dec 22:00','7 Dec 06:00','8 Dec 14:00','9 Dec 22:00','11 Dec 06:00','14 Dec 14:00','15 Dec 22:00','17 Dec 06:00','18 Dec 14:00','21 Dec 22:00','23 Dec 06:00','24 Dec 14:00','29 Dec 01:00','30 Dec 09:00'][round(datum.value/32)]"}},
  "y":{"field":"y","type":"quantitative","scale":{"domain":[1.31212,1.36496],"nice":false,"zero":false},
   "axis":{"orient":"right","format":".5f","values":[1.3123,1.3153,1.3183,1.3213,1.3243,1.32735,1.33035,1.33335,1.33635,1.33935,1.34235,1.34535,1.34835,1.35135,1.35435,1.35735,1.36035,1.3634]}},
  "text":{"field":"t"}}}
]
}
